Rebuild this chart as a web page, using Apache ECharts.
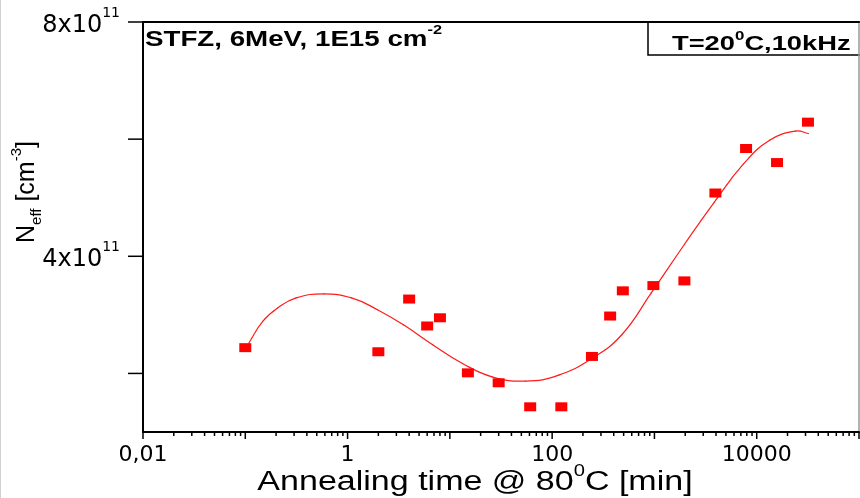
<!DOCTYPE html>
<html>
<head>
<meta charset="utf-8">
<script src="https://cdn.jsdelivr.net/npm/echarts@6/dist/echarts.min.js"></script>
<style>
html,body{margin:0;padding:0;background:#fff;}
#chart{width:860px;height:498px;}
</style>
</head>
<body>
<div id="chart"></div>
<script>
// Measured data points: annealing time [min] and N_eff [cm^-3]
const annealTime = [0.1, 2, 4, 6, 8, 15, 30, 61, 123, 245, 369, 491, 977, 1963, 3945, 7870, 15800, 31700];
const neffValues = [2.44e11, 2.37e11, 3.27e11, 2.81e11, 2.95e11, 2.01e11, 1.84e11, 1.43e11, 1.43e11, 2.29e11, 2.98e11, 3.41e11, 3.50e11, 3.58e11, 5.08e11, 5.84e11, 5.60e11, 6.29e11];

// Fit curve
const fitTime = [0.108, 0.148, 0.207, 0.314, 0.586, 1.094, 1.96, 3.52, 6.84, 13.3, 25.9, 54.8, 116, 246, 479, 931, 1968, 3837, 7465, 13370, 23990, 32060];
const fitNeff = [2.516e11, 2.888e11, 3.117e11, 3.290e11, 3.358e11, 3.290e11, 3.088e11, 2.830e11, 2.487e11, 2.171e11, 1.942e11, 1.869e11, 1.971e11, 2.258e11, 2.660e11, 3.375e11, 4.206e11, 4.922e11, 5.581e11, 5.982e11, 6.137e11, 6.096e11];

// Axes
const xMin = 0.01, xMax = 100000;
const yMin = 1e11, yMax = 8e11;
const xDecades = [0.01, 0.1, 1, 10, 100, 1000, 10000, 100000];
const xMinorMultipliers = [2, 3, 4, 5, 6, 7, 8, 9];
const yTickValues = [2e11, 4e11, 6e11, 8e11];
const yLabelValues = [4e11, 8e11];
const xLabelExponents = [-2, 0, 2, 4];

const xTickData = [];
xDecades.forEach(d => {
  xTickData.push([d, yMin, 1]);
  if (d < xMax) xMinorMultipliers.forEach(m => xTickData.push([d * m, yMin, 0]));
});
const yTickData = yTickValues.map(v => [xMin, v]);
const fitData = fitTime.map((t, i) => [t, fitNeff[i]]);

const chart = echarts.init(document.getElementById('chart'), null, {renderer: 'canvas'});

function xLabel(v) {
  const e = Math.round(Math.log10(v));
  if (xLabelExponents.indexOf(e) < 0) return '';
  if (e >= 0) return String(Math.pow(10, e));
  return '0,' + '0'.repeat(-e - 1) + '1';
}
function yLabel(v) {
  const k = Math.round(v / 1e11);
  if (yLabelValues.map(x => Math.round(x / 1e11)).indexOf(k) < 0) return '';
  return '{m|' + k + 'x10}{s|11}';
}

// Smooth curve segment through the fit points (positions via the axes' scales)
const SMOOTH = 0.45;
function fitSegment(params, api) {
  const i = params.dataIndex;
  const n = fitData.length;
  if (i >= n - 1) return null;
  const c = k => api.coord(fitData[Math.max(0, Math.min(n - 1, k))]);
  const p0 = c(i - 1), p1 = c(i), p2 = c(i + 1), p3 = c(i + 2);
  const d = (a, b) => Math.hypot(b[0] - a[0], b[1] - a[1]);
  const d01 = d(p0, p1), d12 = d(p1, p2), d23 = d(p2, p3);
  const r1 = (d01 + d12) > 0 ? d12 / (d01 + d12) : 0.5;
  const r2 = (d12 + d23) > 0 ? d12 / (d12 + d23) : 0.5;
  const cp1 = [p1[0] + (p2[0] - p0[0]) * SMOOTH * r1, p1[1] + (p2[1] - p0[1]) * SMOOTH * r1];
  const cp2 = [p2[0] - (p3[0] - p1[0]) * SMOOTH * r2, p2[1] - (p3[1] - p1[1]) * SMOOTH * r2];
  return {
    type: 'bezierCurve',
    shape: {x1: p1[0], y1: p1[1], x2: p2[0], y2: p2[1], cpx1: cp1[0], cpy1: cp1[1], cpx2: cp2[0], cpy2: cp2[1]},
    style: {stroke: '#ff1a1a', lineWidth: 1.2, fill: null, lineCap: 'round'}
  };
}

const option = {
  animation: false,
  backgroundColor: '#fff',
  grid: {left: 143, right: 1, top: 22, bottom: 66, containLabel: false},
  xAxis: [{
    type: 'log', logBase: 10, min: xMin, max: xMax, position: 'bottom',
    axisLine: {show: true, lineStyle: {color: '#000', width: 2}},
    axisTick: {show: false}, minorTick: {show: false},
    splitLine: {show: false},
    axisLabel: {formatter: xLabel, color: '#000', fontFamily: 'DejaVu Sans', fontSize: 22, margin: 12, showMinLabel: true, showMaxLabel: false}
  }, {
    type: 'log', logBase: 10, min: xMin, max: xMax, position: 'top',
    axisLine: {show: true, lineStyle: {color: '#000', width: 2}},
    axisTick: {show: false}, axisLabel: {show: false}, splitLine: {show: false}
  }],
  yAxis: [{
    type: 'value', min: yMin, max: yMax, interval: 1e11, position: 'left',
    axisLine: {show: true, lineStyle: {color: '#000', width: 2}},
    axisTick: {show: false}, splitLine: {show: false},
    axisLabel: {
      formatter: yLabel, color: '#000', margin: 23,
      rich: {
        m: {fontFamily: 'DejaVu Sans', fontSize: 24, color: '#000', verticalAlign: 'bottom', padding: [7, 0, 0, 0]},
        s: {fontFamily: 'DejaVu Sans', fontSize: 14, color: '#000', verticalAlign: 'top'}
      }
    }
  }, {
    type: 'value', min: yMin, max: yMax, position: 'right',
    axisLine: {show: true, lineStyle: {color: '#999', width: 1.5}},
    axisTick: {show: false}, axisLabel: {show: false}, splitLine: {show: false}
  }],
  series: [{
    name: 'fit', type: 'custom', xAxisIndex: 0, yAxisIndex: 0, silent: true,
    data: fitData, renderItem: fitSegment, z: 2
  }, {
    name: 'data', type: 'scatter', xAxisIndex: 0, yAxisIndex: 0,
    data: annealTime.map((t, i) => [t, neffValues[i]]),
    symbol: 'rect', symbolSize: [12, 9],
    itemStyle: {color: '#ff0000', opacity: 1}, z: 3, silent: true
  }, {
    name: 'xticks', type: 'custom', xAxisIndex: 0, yAxisIndex: 0, clip: false, silent: true,
    data: xTickData,
    renderItem: (params, api) => {
      const p = api.coord([api.value(0), api.value(1)]);
      const len = api.value(2) ? 7 : 4;
      return {type: 'line', shape: {x1: p[0], y1: p[1], x2: p[0], y2: p[1] + len}, style: {stroke: '#000', lineWidth: 1.5}};
    }
  }, {
    name: 'yticks', type: 'custom', xAxisIndex: 0, yAxisIndex: 0, clip: false, silent: true,
    data: yTickData,
    renderItem: (params, api) => {
      const p = api.coord([api.value(0), api.value(1)]);
      return {type: 'line', shape: {x1: p[0] - 15, y1: p[1], x2: p[0], y2: p[1]}, style: {stroke: '#000', lineWidth: 1.5}};
    }
  }],
  graphic: [
    {type: 'rect', shape: {x: 0, y: 0, width: 1, height: 498}, style: {fill: '#d0d0d0'}, silent: true},
    {type: 'rect', shape: {x: 648, y: 22, width: 215, height: 33}, style: {fill: 'none', stroke: '#000', lineWidth: 1.5}, silent: true},
    {type: 'text', x: 672, y: 42, scaleX: 1.3, silent: true,
      style: {text: '{m|T=20}{s|0}{m|C,10kHz}', fill: '#000', align: 'left', verticalAlign: 'middle',
        rich: {
          m: {fontFamily: 'Liberation Sans', fontWeight: 'bold', fontSize: 21, fill: '#000', verticalAlign: 'bottom', padding: [4, 0, 0, 0]},
          s: {fontFamily: 'Liberation Sans', fontWeight: 'bold', fontSize: 13, fill: '#000', verticalAlign: 'top'}
        }}},
    {type: 'text', x: 145, y: 37, scaleX: 1.26, silent: true,
      style: {text: '{m|STFZ, 6MeV, 1E15 cm}{s|-2}', fill: '#000', align: 'left', verticalAlign: 'middle',
        rich: {
          m: {fontFamily: 'Liberation Sans', fontWeight: 'bold', fontSize: 22, fill: '#000', verticalAlign: 'bottom', padding: [5, 0, 0, 0]},
          s: {fontFamily: 'Liberation Sans', fontWeight: 'bold', fontSize: 13, fill: '#000', verticalAlign: 'top'}
        }}},
    {type: 'text', x: 475, y: 480, scaleX: 1.26, silent: true,
      style: {text: '{m|Annealing time @ 80}{s|0}{m|C [min]}', fill: '#000', align: 'center', verticalAlign: 'middle',
        rich: {
          m: {fontFamily: 'Liberation Sans', fontSize: 27, fill: '#000', verticalAlign: 'bottom', padding: [5, 0, 0, 0]},
          s: {fontFamily: 'Liberation Sans', fontSize: 16, fill: '#000', verticalAlign: 'top'}
        }}},
    {type: 'text', x: 27, y: 192, rotation: Math.PI / 2, silent: true,
      style: {text: '{m|N}{sub|eff}{m| [cm}{sup|-3}{m|]}', fill: '#000', align: 'center', verticalAlign: 'middle',
        rich: {
          m: {fontFamily: 'Liberation Sans', fontSize: 25, fill: '#000', verticalAlign: 'middle', padding: [5, 0, 5, 0]},
          sub: {fontFamily: 'Liberation Sans', fontSize: 15, fill: '#000', verticalAlign: 'bottom'},
          sup: {fontFamily: 'Liberation Sans', fontSize: 15, fill: '#000', verticalAlign: 'top'}
        }}}
  ]
};
chart.setOption(option);
</script>
</body>
</html>
